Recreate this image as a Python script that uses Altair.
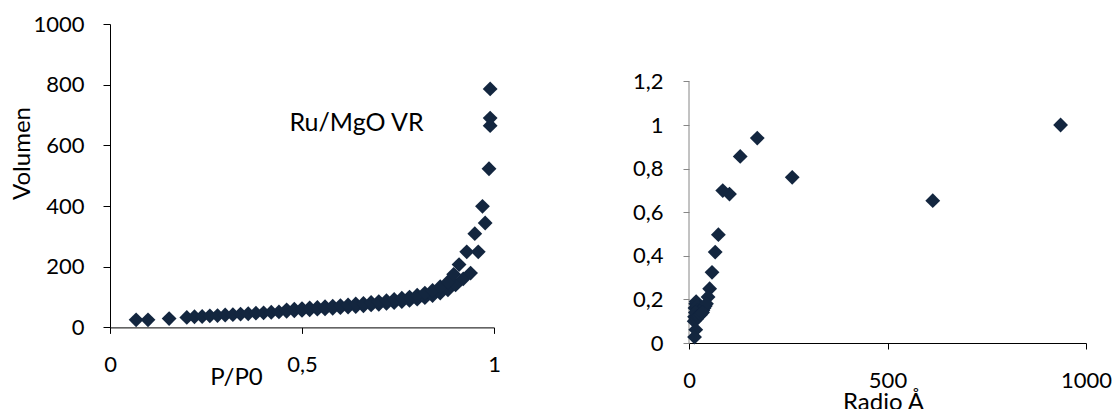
import altair as alt
import pandas as pd

# ---- Left: isotherm (P/P0 vs Volumen) ----
ads_p = [0.068, 0.099, 0.154, 0.20, 0.22, 0.24, 0.26, 0.28, 0.30, 0.32, 0.34, 0.36, 0.38, 0.40,
         0.42, 0.44, 0.46, 0.48, 0.50, 0.52, 0.54, 0.56, 0.58, 0.60, 0.62, 0.64, 0.66, 0.68,
         0.70, 0.72, 0.74, 0.76, 0.78, 0.80, 0.82, 0.84, 0.86, 0.88, 0.90, 0.92, 0.939, 0.959,
         0.977, 0.987, 0.990]
ads_v = [25, 25, 29, 33, 35, 36, 38, 39, 41, 42, 44, 45, 47, 48,
         50, 51, 53, 55, 56, 58, 60, 61, 63, 65, 67, 69, 71, 74,
         76, 79, 82, 85, 89, 93, 98, 105, 113, 124, 140, 160, 179, 249,
         344, 523, 786]
des_p = [0.46, 0.48, 0.50, 0.52, 0.54, 0.56, 0.58, 0.60, 0.62, 0.64, 0.66, 0.68, 0.70, 0.72,
         0.74, 0.76, 0.78, 0.80, 0.82, 0.84, 0.86, 0.88, 0.895, 0.909, 0.929, 0.950, 0.970,
         0.990, 0.990]
des_v = [58, 60, 62, 64, 66, 68, 70, 72, 74, 77, 79, 82, 85, 88,
         92, 96, 100, 106, 113, 122, 134, 150, 175, 207, 249, 309, 399,
         665, 690]

label_text = ["Ru/MgO VR"]
label_p = [0.642]
label_v = [675]

# ---- Right: pore distribution (Radio Å) ----
radio = [936, 614, 260, 172, 129, 102, 85, 74, 66, 58, 52, 48,
         14, 15, 17, 18, 20, 22, 24, 26, 28, 30, 32, 35, 38, 41, 44,
         13, 16, 19, 21, 25, 29, 34, 17, 14]
frac = [1.0, 0.653, 0.760, 0.940, 0.856, 0.683, 0.699, 0.497, 0.417, 0.324, 0.249, 0.211,
        0.12, 0.16, 0.18, 0.19, 0.17, 0.15, 0.14, 0.13, 0.135, 0.14, 0.145, 0.15, 0.16, 0.17, 0.18,
        0.10, 0.14, 0.11, 0.12, 0.125, 0.13, 0.14, 0.061, 0.027]

NAVY = "#13263F"
FONT = "Lato"
FS = 22
comma = "replace(format(datum.value, '~g'), '.', ',')"

left_df = pd.DataFrame({"p": ads_p + des_p, "v": ads_v + des_v})
lab_df = pd.DataFrame({"p": label_p, "v": label_v, "t": label_text})

LW, LH = 384, 303.4
RW, RH_vis = 397, 261.6
RH = 319
ry_max = 1.2 * RH / RH_vis

lx = alt.X("p:Q", scale=alt.Scale(domain=[0, 1], nice=False, zero=False),
           axis=alt.Axis(values=[0, 0.5, 1], labelExpr=comma, title="P/P0", grid=False,
                         tickSize=6, labelPadding=21, titleX=126, titleY=50,
                         titleAlign="center", titleBaseline="middle",
                         domainColor="#000000", tickColor="#000000"))
ly = alt.Y("v:Q", scale=alt.Scale(domain=[0, 1000], nice=False),
           axis=alt.Axis(values=[0, 200, 400, 600, 800, 1000], labelExpr=comma, title="Volumen",
                         grid=False, tickSize=7, labelPadding=19, titleX=-88, titleY=129,
                         titleAlign="center", titleBaseline="middle", titleAngle=-90,
                         titleFontSize=24,
                         domainColor="#000000", tickColor="#000000"))

left_pts = alt.Chart(left_df).mark_point(shape="diamond", filled=True, size=220,
                                         color=NAVY, opacity=1).encode(x=lx, y=ly)
left_txt = alt.Chart(lab_df).mark_text(font=FONT, fontSize=25, color="#000000",
                                      align="center", baseline="middle").encode(
    x=alt.X("p:Q"), y=alt.Y("v:Q"), text="t:N")
left = alt.layer(left_pts, left_txt).properties(width=LW, height=LH)

right_df = pd.DataFrame({"r": radio, "f": frac})
axis_df = pd.DataFrame({"r": [0], "f": [0], "f2": [1.2]})

rx = alt.X("r:Q", scale=alt.Scale(domain=[0, 1000], nice=False, zero=False),
           axis=alt.Axis(values=[0, 500, 1000], labelExpr=comma, title="Radio Å", grid=False,
                         tickSize=6, labelPadding=21, titleX=194, titleY=59,
                         titleAlign="center", titleBaseline="middle",
                         domainColor="#000000", tickColor="#000000"))
ry = alt.Y("f:Q", scale=alt.Scale(domain=[0, ry_max], nice=False),
           axis=alt.Axis(values=[0, 0.2, 0.4, 0.6, 0.8, 1, 1.2], labelExpr=comma, title=None,
                         grid=False, domain=False, tickSize=6, labelPadding=20,
                         tickColor="#868686"))

right_pts = alt.Chart(right_df).mark_point(shape="diamond", filled=True, size=220,
                                           color=NAVY, opacity=1).encode(x=rx, y=ry)
right_axis = alt.Chart(axis_df).mark_rule(color="#868686", strokeWidth=1).encode(
    x="r:Q", y="f:Q", y2="f2:Q")
right = alt.layer(right_axis, right_pts).properties(width=RW, height=RH)

chart = alt.hconcat(left, right, spacing=131).properties(
    padding={"left": 1, "top": 5, "right": 0, "bottom": 0}
).configure_view(stroke=None).configure_axis(
    labelFont=FONT, labelFontSize=FS, labelColor="#000000",
    titleFont=FONT, titleFontSize=24, titleFontWeight="normal", titleColor="#000000",
    labelFlush=False, labelOverlap=False
)

chart.save("out.html", embed_options={"renderer": "svg", "actions": False})
